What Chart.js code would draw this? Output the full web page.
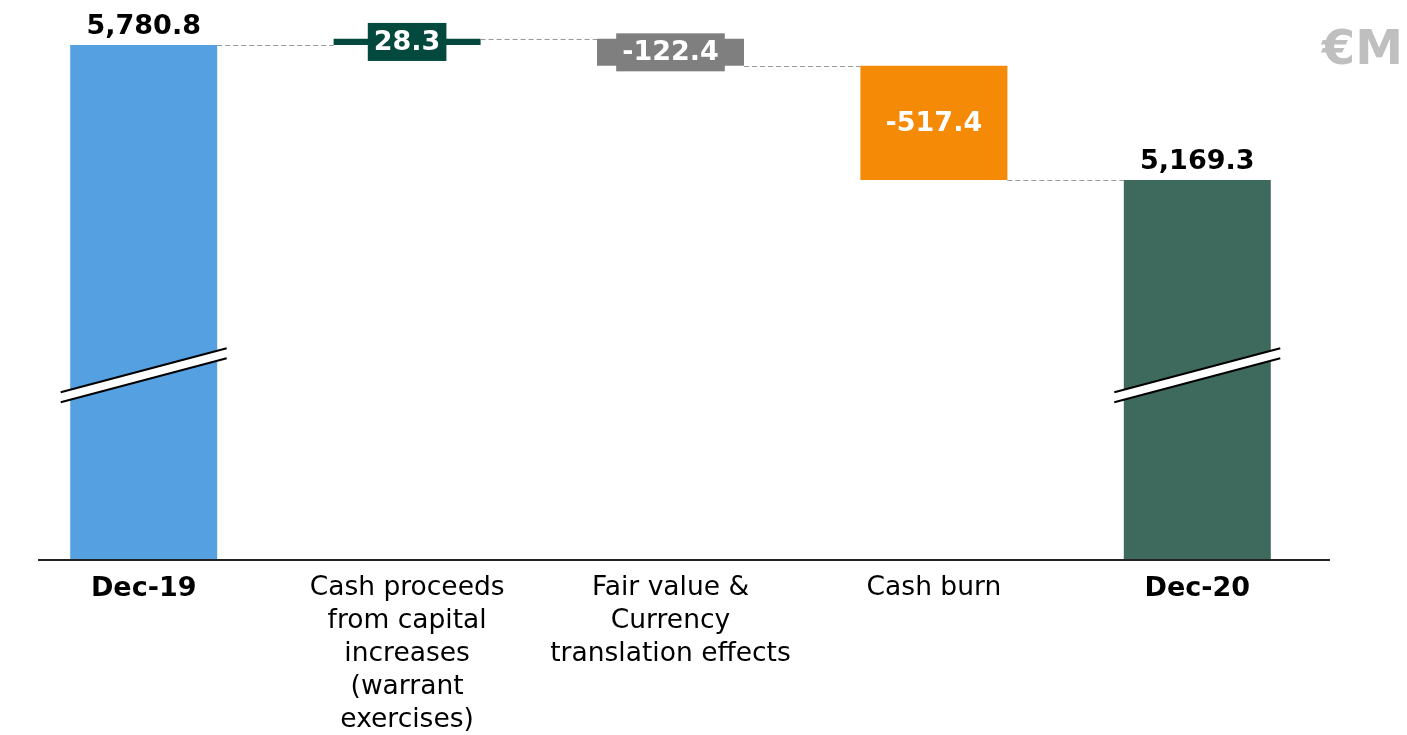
<!DOCTYPE html>
<html>
<head>
<meta charset="utf-8">
<title>Cash bridge Dec-19 to Dec-20</title>
<script src="https://cdn.jsdelivr.net/npm/chart.js@4.4.1/dist/chart.umd.min.js"></script>
<style>
  html, body { margin: 0; padding: 0; background: #fff; }
  #wrap { position: relative; width: 1407px; height: 735px; }
</style>
</head>
<body>
<div id="wrap"><canvas id="bridge"></canvas></div>
<script>
/* ---- data ---- */
const categories = [
  ['Dec-19'],
  ['Cash proceeds', 'from capital', 'increases', '(warrant', 'exercises)'],
  ['Fair value &', 'Currency', 'translation effects'],
  ['Cash burn'],
  ['Dec-20']
];
const stepValues = [5780.8, 28.3, -122.4, -517.4, 5169.3];
const stepKinds  = ['total', 'delta', 'delta', 'delta', 'total'];
const barColors  = ['#55A0E0', '#03493D', '#7F7F7F', '#F58A07', '#3E6A5E'];
const labelText  = ['5,780.8', '28.3', '-122.4', '-517.4', '5,169.3'];
const unitLabel  = '€M';

// axis is broken: the visible part starts well above zero
const Y_MIN = 3448;
const Y_MAX = 5985;

/* ---- build floating bars ---- */
const ranges = [];
const levels = [];
let running = 0;
stepValues.forEach((v, i) => {
  if (stepKinds[i] === 'total') {
    ranges.push([Y_MIN, v]);
    running = v;
  } else {
    ranges.push([running, running + v]);
    running += v;
  }
  levels.push(running);
});

const FONT = "'DejaVu Sans', Verdana, sans-serif";

const bridgeDecor = {
  id: 'bridgeDecor',
  afterDatasetsDraw(chart) {
    const ctx = chart.ctx;
    const x = chart.scales.x, y = chart.scales.y;
    const meta = chart.getDatasetMeta(0);
    const area = chart.chartArea;

    ctx.save();

    // baseline
    ctx.strokeStyle = '#222';
    ctx.lineWidth = 2;
    ctx.beginPath();
    ctx.moveTo(38, area.bottom);
    ctx.lineTo(1330, area.bottom);
    ctx.stroke();

    // dashed connectors
    ctx.strokeStyle = '#9A9A9A';
    ctx.lineWidth = 1;
    ctx.setLineDash([5, 3]);
    for (let i = 0; i < meta.data.length - 1; i++) {
      const a = meta.data[i], b = meta.data[i + 1];
      const ly = Math.round(y.getPixelForValue(levels[i])) + 0.5;
      ctx.beginPath();
      ctx.moveTo(a.x + a.width / 2, ly);
      ctx.lineTo(b.x - b.width / 2, ly);
      ctx.stroke();
    }
    ctx.setLineDash([]);

    // axis-break marks on the total bars
    const breakY = y.getPixelForValue(4308);
    stepKinds.forEach((k, i) => {
      if (k !== 'total') return;
      const cx = x.getPixelForValue(i);
      const x0 = cx - 83, x1 = cx + 83;
      const y0 = breakY + 22, y1 = breakY - 22;
      ctx.fillStyle = '#fff';
      ctx.beginPath();
      ctx.moveTo(x0, y0); ctx.lineTo(x1, y1);
      ctx.lineTo(x1, y1 + 10); ctx.lineTo(x0, y0 + 10);
      ctx.closePath();
      ctx.fill();
      ctx.strokeStyle = '#000';
      ctx.lineWidth = 2;
      ctx.beginPath();
      ctx.moveTo(x0, y0); ctx.lineTo(x1, y1);
      ctx.moveTo(x0, y0 + 10); ctx.lineTo(x1, y1 + 10);
      ctx.stroke();
    });

    // value labels
    ctx.font = 'bold 27px ' + FONT;
    ctx.textAlign = 'center';
    meta.data.forEach((bar, i) => {
      const txt = labelText[i];
      if (stepKinds[i] === 'total') {
        ctx.fillStyle = '#000';
        ctx.textBaseline = 'alphabetic';
        ctx.fillText(txt, bar.x, Math.min(bar.y, bar.base) - 11);
        return;
      }
      const cy = (bar.y + bar.base) / 2;
      const h = Math.abs(bar.base - bar.y);
      if (h < 40) {
        const w = ctx.measureText(txt).width + 12;
        ctx.fillStyle = barColors[i];
        ctx.fillRect(bar.x - w / 2, cy - 19, w, 38);
      }
      ctx.fillStyle = '#fff';
      ctx.textBaseline = 'middle';
      ctx.fillText(txt, bar.x, cy + 1);
    });

    // unit
    ctx.font = 'bold 48px ' + FONT;
    ctx.fillStyle = '#BFBFBF';
    ctx.textAlign = 'right';
    ctx.textBaseline = 'alphabetic';
    ctx.fillText(unitLabel, 1403, 64);

    ctx.restore();
  }
};

new Chart(document.getElementById('bridge'), {
  type: 'bar',
  data: {
    labels: categories,
    datasets: [{
      data: ranges,
      backgroundColor: barColors,
      borderWidth: 0,
      borderSkipped: false,
      barPercentage: 0.558,
      categoryPercentage: 1
    }]
  },
  options: {
    responsive: true,
    maintainAspectRatio: false,
    animation: false,
    layout: { padding: { left: 12, right: 78, top: 0, bottom: 0 } },
    plugins: { legend: { display: false }, tooltip: { enabled: false } },
    scales: {
      x: {
        grid: { display: false },
        border: { display: false },
        afterFit: s => { s.height = 175; },
        ticks: {
          autoSkip: false,
          maxRotation: 0,
          padding: 4,
          color: '#000',
          font: c => ({
            family: FONT,
            size: (c.index === 0 || c.index === 4) ? 27 : 26.5,
            weight: (c.index === 0 || c.index === 4) ? 'bold' : 'normal',
            lineHeight: 1.245
          })
        }
      },
      y: { display: false, min: Y_MIN, max: Y_MAX }
    }
  },
  plugins: [bridgeDecor]
});
</script>
</body>
</html>
